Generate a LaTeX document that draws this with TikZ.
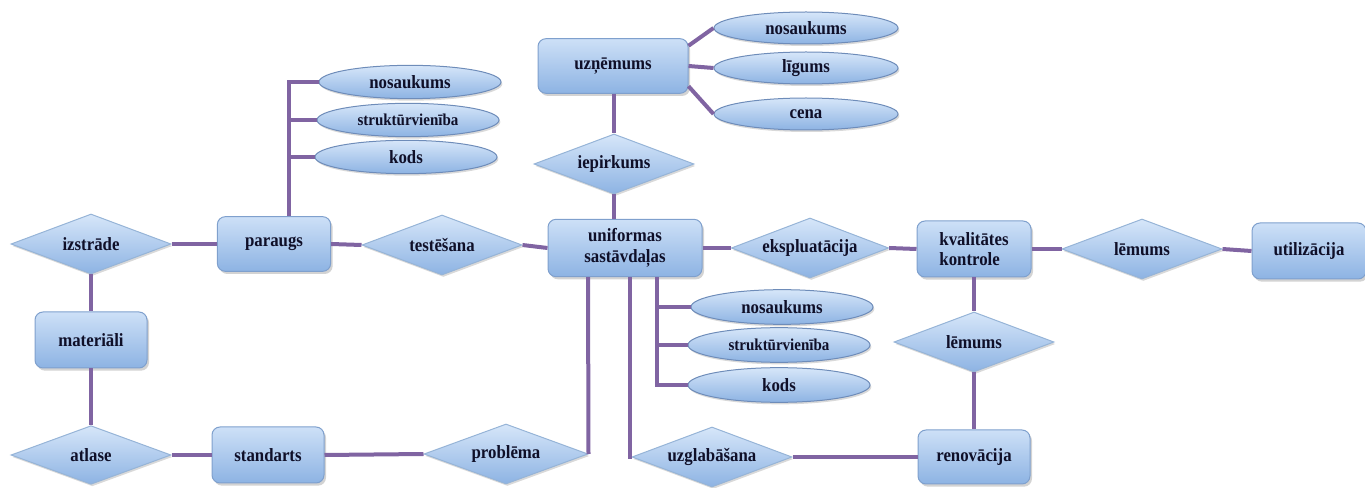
\documentclass[tikz,border=0pt]{standalone}
\usepackage{fontspec}
\setmainfont{Liberation Serif}[FakeStretch=0.9]
\usetikzlibrary{shapes.geometric,shadows}

\tikzset{every picture/.style={line width=0.75pt}}
\tikzset{
	entity/.style={draw={rgb, 255:red, 127; green, 160; blue, 205 }, rounded corners=6pt, top color={rgb, 255:red, 205; green, 224; blue, 247 }, bottom color={rgb, 255:red, 141; green, 179; blue, 227 }, minimum width=84pt, minimum height=42pt, inner sep=2pt, text={rgb, 255:red, 15; green, 15; blue, 40 }, font=\bfseries\fontsize{14}{15.5}\selectfont, drop shadow={shadow xshift=1.5pt, shadow yshift=-2pt, opacity=0.35}},
	relation/.style={diamond, aspect=3, draw={rgb, 255:red, 150; green, 180; blue, 215 }, top color={rgb, 255:red, 214; green, 230; blue, 249 }, bottom color={rgb, 255:red, 141; green, 179; blue, 227 }, minimum width=120pt, minimum height=45pt, inner sep=0pt, text={rgb, 255:red, 15; green, 15; blue, 40 }, font=\bfseries\fontsize{14}{15.5}\selectfont, drop shadow={shadow xshift=1pt, shadow yshift=-1.5pt, opacity=0.3}},
	attribute/.style={ellipse, draw={rgb, 255:red, 110; green, 140; blue, 185 }, top color={rgb, 255:red, 214; green, 230; blue, 249 }, bottom color={rgb, 255:red, 141; green, 179; blue, 227 }, minimum width=136.5pt, minimum height=25pt, inner sep=0pt, text={rgb, 255:red, 15; green, 15; blue, 40 }, font=\bfseries\fontsize{14}{15.5}\selectfont, drop shadow={shadow xshift=1pt, shadow yshift=-1.5pt, opacity=0.3}},
	small/.style={font=\bfseries\fontsize{12.5}{14}\selectfont},
	link/.style={draw={rgb, 255:red, 128; green, 100; blue, 162 }, line width=3pt}
}

\begin{document}
\begin{tikzpicture}[x=0.75pt,y=0.75pt,yscale=-1,xscale=1]
	\useasboundingbox (0,0) rectangle (1365,488);

	%Shape: Entities
	\node [entity, minimum width=112.5pt, minimum height=41pt] (uznemums) at (613,66) {uzņēmums};
	\node [entity, minimum width=115.5pt, minimum height=43pt, align=center] (uniformas) at (625,248) {uniformas\\sastāvdaļas};
	\node [entity, minimum width=85pt, minimum height=41pt] (paraugs) at (274,244) {paraugs};
	\node [entity, minimum width=84pt, minimum height=42pt] (materiali) at (91,340) {materiāli};
	\node [entity, minimum width=84pt, minimum height=42pt] (standarts) at (268,455) {standarts};
	\node [entity, minimum width=85.5pt, minimum height=42pt, align=left] (kvalitate) at (974,249) {kvalitātes\\kontrole};
	\node [entity, minimum width=84pt, minimum height=40.5pt] (renovacija) at (974,457) {renovācija};
	\node [entity, minimum width=85.5pt, minimum height=42pt] (utilizacija) at (1309,251) {utilizācija};

	%Shape: Relations
	\node [relation] (iepirkums) at (614,164) {iepirkums};
	\node [relation] (izstrade) at (91,244) {izstrāde};
	\node [relation] (testesana) at (442,245) {testēšana};
	\node [relation, minimum width=118pt] (ekspluatacija) at (810,248) {ekspluatācija};
	\node [relation] (lemumsA) at (1142,249) {lēmums};
	\node [relation] (lemumsB) at (974,342) {lēmums};
	\node [relation, minimum height=44pt] (atlase) at (91,455) {atlase};
	\node [relation, minimum width=123pt] (problema) at (506,454) {problēma};
	\node [relation] (uzglabasana) at (712,457) {uzglabāšana};

	%Shape: Attributes
	\node [attribute, minimum width=138pt, minimum height=24pt] (uzNos) at (806,28) {nosaukums};
	\node [attribute, minimum width=138pt, minimum height=24pt] (uzLig) at (806,68) {līgums};
	\node [attribute, minimum width=138pt, minimum height=24pt] (uzCen) at (806,114) {cena};
	\node [attribute] (paNos) at (410,82) {nosaukums};
	\node [attribute, small] (paStr) at (408,120) {struktūrvienība};
	\node [attribute] (paKod) at (406,157) {kods};
	\node [attribute, minimum height=26pt] (unNos) at (782,307) {nosaukums};
	\node [attribute, minimum height=26pt, small] (unStr) at (779,345) {struktūrvienība};
	\node [attribute, minimum height=26pt] (unKod) at (779,385) {kods};

	%Straight Lines
	\coordinate (paStem) at ([xshift=11.25pt]paraugs.north);
	\coordinate (unStemA) at ([xshift=-27.75pt]uniformas.south);
	\coordinate (unStemB) at ([xshift=3.75pt]uniformas.south);
	\coordinate (unStemC) at ([xshift=24pt]uniformas.south);

	\draw [link] (uznemums.15) -- (uzNos.west);
	\draw [link] (uznemums.east) -- (uzLig.west);
	\draw [link] (uznemums.-15) -- (uzCen.west);
	\draw [link] (uznemums.south -| iepirkums.north) -- (iepirkums.north);
	\draw [link] (iepirkums.south) -- (iepirkums.south |- uniformas.north);

	\draw [link] (paStem) |- (paNos.west);
	\draw [link] (paStem |- paStr.west) -- (paStr.west);
	\draw [link] (paStem |- paKod.west) -- (paKod.west);

	\draw [link] (izstrade.east) -- (paraugs.west);
	\draw [link] (paraugs.east) -- (testesana.west);
	\draw [link] (testesana.east) -- (uniformas.west);
	\draw [link] (uniformas.east) -- (ekspluatacija.west);
	\draw [link] (ekspluatacija.east) -- (kvalitate.west);
	\draw [link] (kvalitate.east) -- (lemumsA.west);
	\draw [link] (lemumsA.east) -- (utilizacija.west);

	\draw [link] (izstrade.south) -- (materiali.north);
	\draw [link] (materiali.south) -- (atlase.north);
	\draw [link] (atlase.east) -- (standarts.west);
	\draw [link] (standarts.east) -- (problema.west);
	\draw [link] (unStemA) -- (problema.east);

	\draw [link] (unStemC) |- (unKod.west);
	\draw [link] (unStemC |- unNos.west) -- (unNos.west);
	\draw [link] (unStemC |- unStr.west) -- (unStr.west);

	\draw [link] (unStemB) |- (uzglabasana.west);
	\draw [link] (uzglabasana.east) -- (renovacija.west);
	\draw [link] (kvalitate.south) -- (lemumsB.north);
	\draw [link] (lemumsB.south) -- (renovacija.north);

\end{tikzpicture}
\end{document}
